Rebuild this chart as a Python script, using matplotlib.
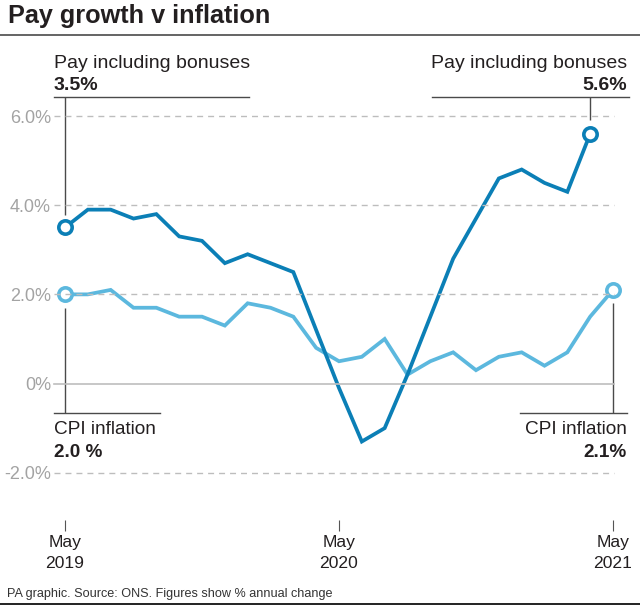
import matplotlib
matplotlib.use("Agg")
import matplotlib.pyplot as plt
from matplotlib.lines import Line2D

W, H = 640, 605

pay = [3.5, 3.9, 3.9, 3.7, 3.8, 3.3, 3.2, 2.7, 2.9, 2.7, 2.5, 1.2, -0.1, -1.3, -1.0,
       0.2, 1.5, 2.8, 3.7, 4.6, 4.8, 4.5, 4.3, 5.6]
cpi = [2.0, 2.0, 2.1, 1.7, 1.7, 1.5, 1.5, 1.3, 1.8, 1.7, 1.5, 0.8, 0.5, 0.6, 1.0,
       0.2, 0.5, 0.7, 0.3, 0.6, 0.7, 0.4, 0.7, 1.5, 2.1]
y_ticks = [-2, 0, 2, 4, 6]
y_labels = ["-2.0%", "0%", "2.0%", "4.0%", "6.0%"]
x_ticks = [0, 12, 24]
x_labels = ["May\n2019", "May\n2020", "May\n2021"]

PAY_COL = "#0b7fb6"
CPI_COL = "#5cb8de"
GRID_COL = "#bdbdbd"
INK = "#231f20"
RULE = "#4a4a4a"

plt.rcParams["font.family"] = ["Liberation Sans", "DejaVu Sans"]

fig = plt.figure(figsize=(W / 100, H / 100), dpi=100)

# axes box in pixels: May 2019 at x=65, May 2021 at x=613, 6% at y=116, bottom at y=520
ax = fig.add_axes([65 / W, 1 - 520 / H, (613 - 65) / W, (520 - 116) / H])
ax.set_xlim(0, 24)
ax.set_ylim(-3.06, 6)
ax.patch.set_visible(False)
for s in ax.spines.values():
    s.set_visible(False)


def px_line(x0, y0, x1, y1, color=RULE, lw=1.0, **kw):
    fig.add_artist(Line2D([x0 / W, x1 / W], [1 - y0 / H, 1 - y1 / H], color=color, lw=lw, **kw))


def px_text(x, y, s, **kw):
    fig.text(x / W, 1 - y / H, s, va="baseline", color=kw.pop("color", INK), **kw)


# gridlines run a little left of the first month
for t in y_ticks:
    px_y = 116 + (6 - t) * 44.6
    if t == 0:
        px_line(54, px_y, 614, px_y, color=GRID_COL, lw=1.2)
    else:
        px_line(54, px_y, 614, px_y, color=GRID_COL, lw=1.0, dashes=(4.3, 3.6))

ax.set_yticks(y_ticks)
ax.set_yticklabels(y_labels, fontsize=13, color="#a3a3a3")
ax.tick_params(axis="y", length=0, pad=10)
ax.set_xticks(x_ticks)
ax.set_xticklabels(x_labels, fontsize=12.6, color=INK, linespacing=1.5)
ax.tick_params(axis="x", length=8, width=0.8, color="#555555", pad=2.5)

# callout leaders
ax.vlines(0, 3.78, 6.43, color=RULE, lw=1.0, clip_on=False)
ax.vlines(23, 5.91, 6.43, color=RULE, lw=1.0, clip_on=False)
ax.vlines(0, -0.66, 1.7, color=RULE, lw=1.0, clip_on=False)
ax.vlines(24, -0.66, 1.8, color=RULE, lw=1.0, clip_on=False)

ax.plot(range(len(cpi)), cpi, color=CPI_COL, lw=2.7, solid_joinstyle="miter", clip_on=False)
ax.plot(range(len(pay)), pay, color=PAY_COL, lw=2.7, solid_joinstyle="miter", clip_on=False)
ax.plot([0, 23], [pay[0], pay[-1]], "o", ms=9.6, mfc="white", mec=PAY_COL, mew=2.6, clip_on=False)
ax.plot([0, 24], [cpi[0], cpi[-1]], "o", ms=9.6, mfc="white", mec=CPI_COL, mew=2.6, clip_on=False)

# title and top rule
px_text(8, 23, "Pay growth v inflation", fontsize=18.2, fontweight="bold")
px_line(0, 34.5, W, 34.5, color=RULE, lw=1.2)

# callouts
px_line(54, 97, 249, 97)
px_text(54, 68, "Pay including bonuses", fontsize=14.0)
px_text(54, 90, "3.5%", fontsize=14.0, fontweight="bold")

px_line(432, 97, 629, 97)
px_text(627, 68, "Pay including bonuses", fontsize=14.0, ha="right")
px_text(627, 90, "5.6%", fontsize=14.0, fontweight="bold", ha="right")

px_line(54, 413, 160, 413)
px_text(54, 434, "CPI inflation", fontsize=13.7)
px_text(54, 457, "2.0 %", fontsize=13.7, fontweight="bold")

px_line(520, 413, 627, 413)
px_text(627, 434, "CPI inflation", fontsize=13.7, ha="right")
px_text(627, 457, "2.1%", fontsize=13.7, fontweight="bold", ha="right")

# source line and bottom rule
px_text(7, 597, "PA graphic. Source: ONS. Figures show % annual change", fontsize=9.1, color="#333333")
px_line(0, 603.8, W, 603.8, color="#222222", lw=1.4)

fig.savefig("out.png", dpi=100)
